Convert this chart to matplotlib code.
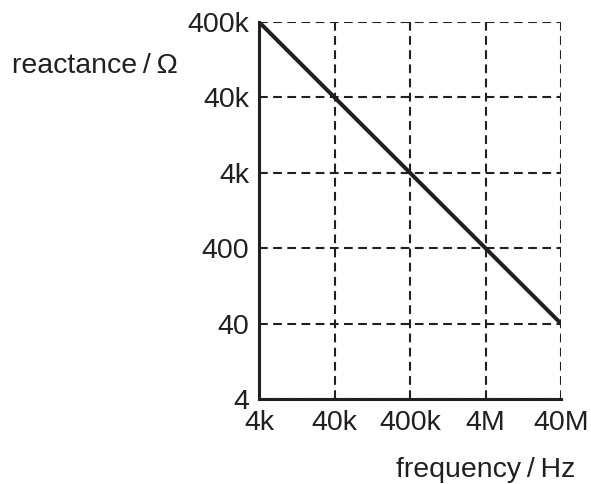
import numpy as np
from matplotlib import pyplot as plt
from matplotlib.ticker import FixedLocator, FixedFormatter, NullLocator

plt.rcParams['font.family'] = ['Liberation Sans', 'DejaVu Sans']

# Data
frequency = [4e3, 4e7]
reactance = [4e5, 40]
x_ticks = [4e3, 4e4, 4e5, 4e6, 4e7]
x_labels = ['4k', '40k', '400k', '4M', '40M']
y_ticks = [4, 40, 400, 4e3, 4e4, 4e5]
y_labels = ['4', '40', '400', '4k', '40k', '400k']

ink = '#231f20'

fig = plt.figure(figsize=(5.91, 4.84), dpi=100)
ax = fig.add_axes([259 / 591, 1 - 399 / 484, 302 / 591, 377 / 484])

ax.plot(frequency, reactance, color=ink, lw=2.9, solid_capstyle='butt', zorder=3)
ax.set_xscale('log')
ax.set_yscale('log')
ax.set_xlim(x_ticks[0], x_ticks[-1])
ax.set_ylim(y_ticks[0], y_ticks[-1])

ax.xaxis.set_major_locator(FixedLocator(x_ticks))
ax.xaxis.set_major_formatter(FixedFormatter(x_labels))
ax.yaxis.set_major_locator(FixedLocator(y_ticks))
ax.yaxis.set_major_formatter(FixedFormatter(y_labels))
ax.xaxis.set_minor_locator(NullLocator())
ax.yaxis.set_minor_locator(NullLocator())
ax.tick_params(length=0, labelsize=20.5, colors=ink)
ax.tick_params(axis='y', pad=7)
ax.tick_params(axis='x', pad=8)

ax.grid(True, color=ink, lw=1.5, linestyle=(0, (4.2, 2.6)))
for s in ['top', 'right']:
    ax.spines[s].set_visible(False)
for s in ['left', 'bottom']:
    ax.spines[s].set_linewidth(2.2)
    ax.spines[s].set_color(ink)

fig.text(12 / 591, 1 - 66 / 484, 'reactance\u2009/\u2009\u03a9', fontsize=20.5,
         color=ink, ha='left', va='center')
fig.text(575 / 591, 1 - 470 / 484, 'frequency\u2009/\u2009Hz', fontsize=20.5,
         color=ink, ha='right', va='center')

fig.savefig('out.png', dpi=100)
